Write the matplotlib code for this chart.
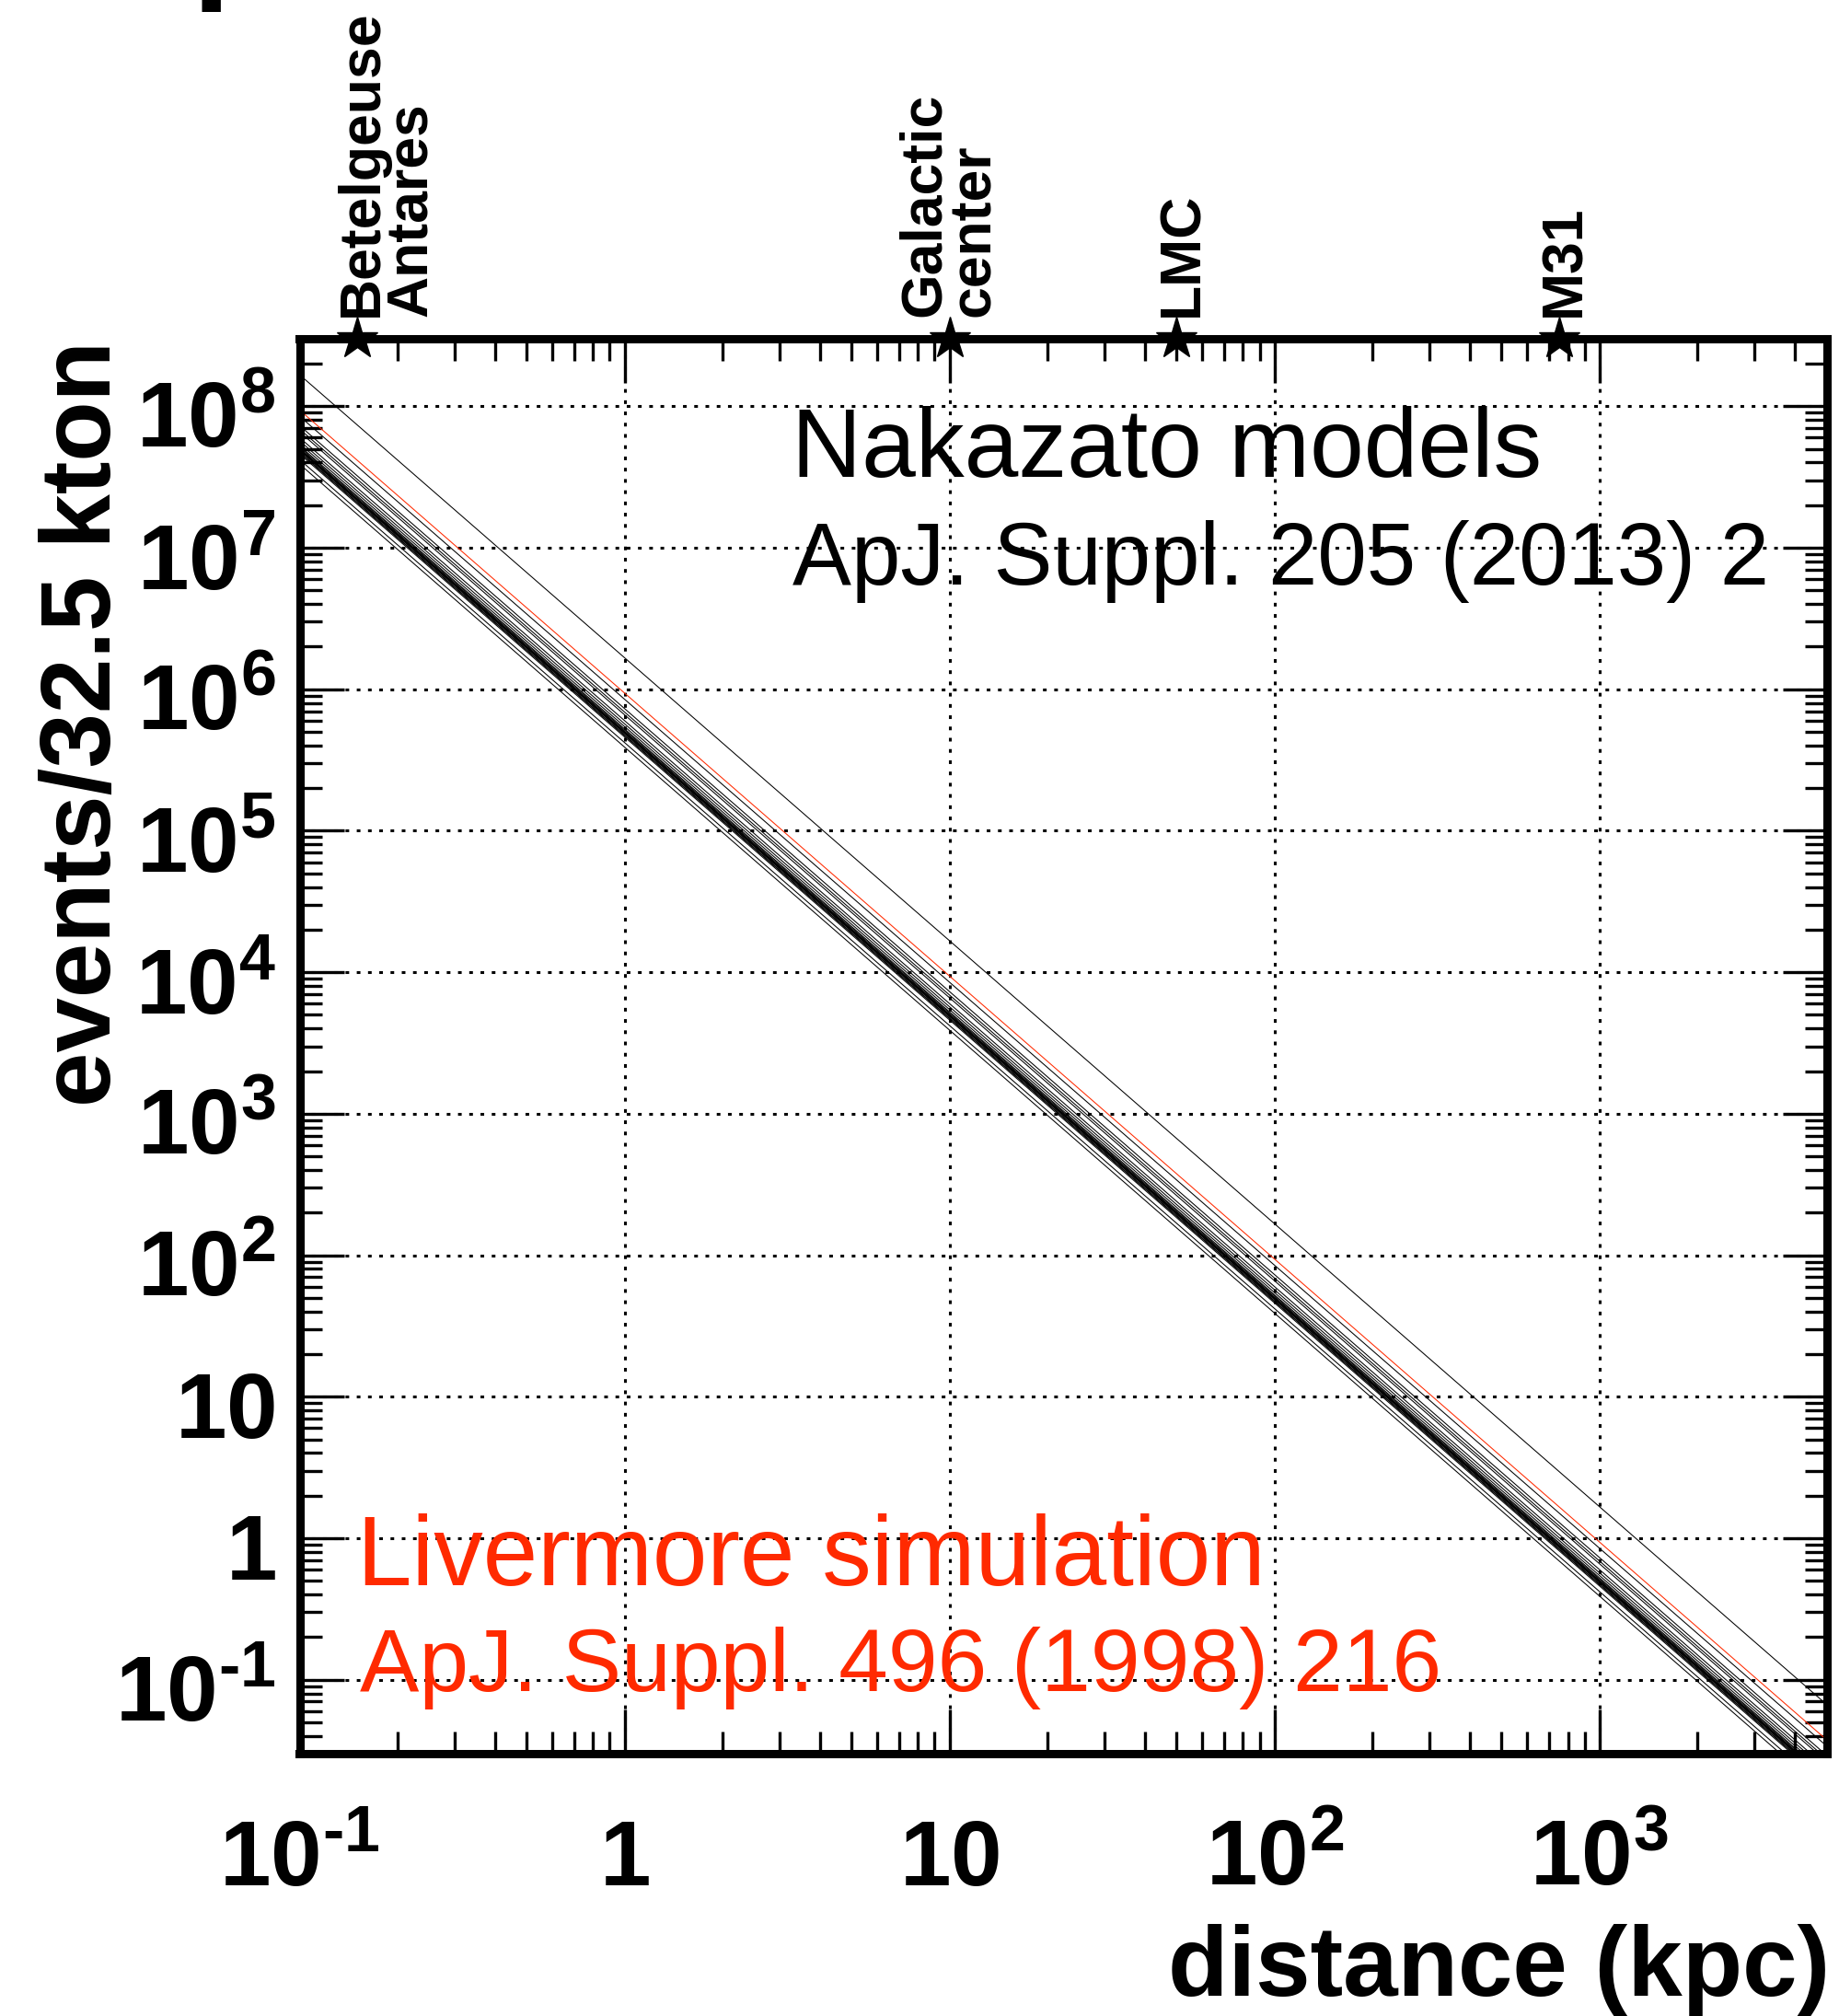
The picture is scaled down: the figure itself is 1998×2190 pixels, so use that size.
import numpy as np
import matplotlib
matplotlib.use("Agg")
import matplotlib.pyplot as plt
import matplotlib.ticker as mticker
import matplotlib.transforms as mtransforms

# ---------------- data ----------------
dist_limits = [0.1, 5000.0]          # kpc, drawn range of each curve
y_limits = [0.03, 3e8]
# expected events at 1 kpc for each Nakazato model (curves scale as 1/d^2)
nakazato_events_1kpc = [1.67e6, 8.5e5, 7.3e5, 6.9e5, 6.6e5, 6.0e5, 5.7e5,
                        5.45e5, 5.25e5, 5.15e5, 5.05e5, 5.0e5, 4.95e5, 4.9e5,
                        4.85e5, 4.75e5, 4.7e5, 4.6e5, 4.2e5, 3.9e5]
livermore_events_1kpc = 9.4e5

source_names = ["Betelgeuse\nAntares", "Galactic\ncenter", "LMC", "M31"]
source_dist = [0.15, 10.0, 50.0, 750.0]
source_label_dist = [0.185, 10.0, 52.0, 780.0]

xtick_vals = [0.1, 1, 10, 100, 1000]
xtick_labels = [r"$\mathbf{10^{\text{-}1}}$", r"$\mathbf{1}$", r"$\mathbf{10}$",
                r"$\mathbf{10^{2}}$", r"$\mathbf{10^{3}}$"]
ytick_vals = [0.1, 1, 10, 1e2, 1e3, 1e4, 1e5, 1e6, 1e7, 1e8]
ytick_labels = [r"$\mathbf{10^{\text{-}1}}$", r"$\mathbf{1}$", r"$\mathbf{10}$",
                r"$\mathbf{10^{2}}$", r"$\mathbf{10^{3}}$", r"$\mathbf{10^{4}}$",
                r"$\mathbf{10^{5}}$", r"$\mathbf{10^{6}}$", r"$\mathbf{10^{7}}$",
                r"$\mathbf{10^{8}}$"]

RED = "#ff2a00"

plt.rcParams["font.family"] = ["Liberation Sans", "DejaVu Sans"]
plt.rcParams["mathtext.fontset"] = "custom"
plt.rcParams["mathtext.rm"] = "Liberation Sans:bold"
plt.rcParams["mathtext.bf"] = "Liberation Sans:bold"
plt.rcParams["mathtext.it"] = "Liberation Sans:bold"
plt.rcParams["mathtext.default"] = "bf"

W, H = 1998, 2190
DPI = 100
fig = plt.figure(figsize=(W / DPI, H / DPI), dpi=DPI)
fig.patch.set_facecolor("white")

x0, x1 = 325.5, 1984.5
y0, y1 = 368.0, 1905.0
ax = fig.add_axes([x0 / W, 1 - y1 / H, (x1 - x0) / W, (y1 - y0) / H])
ax.set_xscale("log")
ax.set_yscale("log")
ax.set_xlim(dist_limits)
ax.set_ylim(y_limits)

# curves (inverse-square scaling of each model normalisation)
d = np.array(dist_limits)
for c in nakazato_events_1kpc:
    ax.plot(d, c / d ** 2, color="black", lw=0.75, zorder=3)
ax.plot(d, livermore_events_1kpc / d ** 2, color=RED, lw=0.75, zorder=3)

# grid
ax.grid(True, which="major", color="black", linestyle=(0, (1.3, 2.7)),
        linewidth=2.2, zorder=1)

# ticks
for axis in (ax.xaxis, ax.yaxis):
    axis.set_major_locator(mticker.LogLocator(base=10, numticks=100))
    axis.set_minor_locator(mticker.LogLocator(base=10, subs=np.arange(2, 10), numticks=100))
    axis.set_minor_formatter(mticker.NullFormatter())
ax.tick_params(which="both", direction="in", top=True, right=True,
               labelbottom=False, labelleft=False, width=2.4, color="black")
ax.tick_params(which="major", length=34.5)
ax.tick_params(which="minor", length=17)
for sp in ax.spines.values():
    sp.set_linewidth(6.5)
    sp.set_zorder(5)

# tick labels
xtr = mtransforms.offset_copy(ax.get_xaxis_transform(), fig=fig, x=0, y=-143, units="dots")
for v, s in zip(xtick_vals, xtick_labels):
    ax.text(v, 0, s, transform=xtr, ha="center", va="baseline", fontsize=72,
            clip_on=False)
ytr = mtransforms.offset_copy(ax.get_yaxis_transform(), fig=fig, x=-26, y=-45, units="dots")
for v, s in zip(ytick_vals, ytick_labels):
    ax.text(0, v, s, transform=ytr, ha="right", va="baseline", fontsize=72,
            clip_on=False)

# axis titles
fig.text(1988 / W, 1 - 2168 / H, "distance (kpc)", ha="right", va="baseline",
         fontsize=77, fontweight="bold")
fig.text(42 / W, 1 - 370 / H, "events/32.5 kton", rotation=90, ha="left", va="top",
         fontsize=77, fontweight="bold")

# source markers on top axis
ax.plot(source_dist, [1.0] * len(source_dist), linestyle="none", marker="*",
        markersize=34, color="black", transform=ax.get_xaxis_transform(),
        clip_on=False, zorder=6)
for name, xl in zip(source_names, source_label_dist):
    ax.text(xl, 1 + 24 / (y1 - y0), name, transform=ax.get_xaxis_transform(),
            rotation=90, ha="center", va="bottom", multialignment="left",
            fontsize=45, fontweight="bold", linespacing=0.88)

# annotations
fig.text(860 / W, 1 - 518 / H, "Nakazato models", fontsize=76, va="baseline",
         color="black")
fig.text(861 / W, 1 - 635 / H, "ApJ. Suppl. 205 (2013) 2", fontsize=69,
         va="baseline", color="black")
fig.text(388 / W, 1 - 1722 / H, "Livermore simulation", fontsize=77,
         va="baseline", color=RED)
fig.text(391 / W, 1 - 1837 / H, "ApJ. Suppl. 496 (1998) 216", fontsize=69.5,
         va="baseline", color=RED)

# fragment of a letter cut off at the top edge
fig.text(208 / W, 1 + 18 / H, "p", fontsize=108, fontweight="bold", va="baseline")

fig.savefig("out.png", dpi=DPI)
